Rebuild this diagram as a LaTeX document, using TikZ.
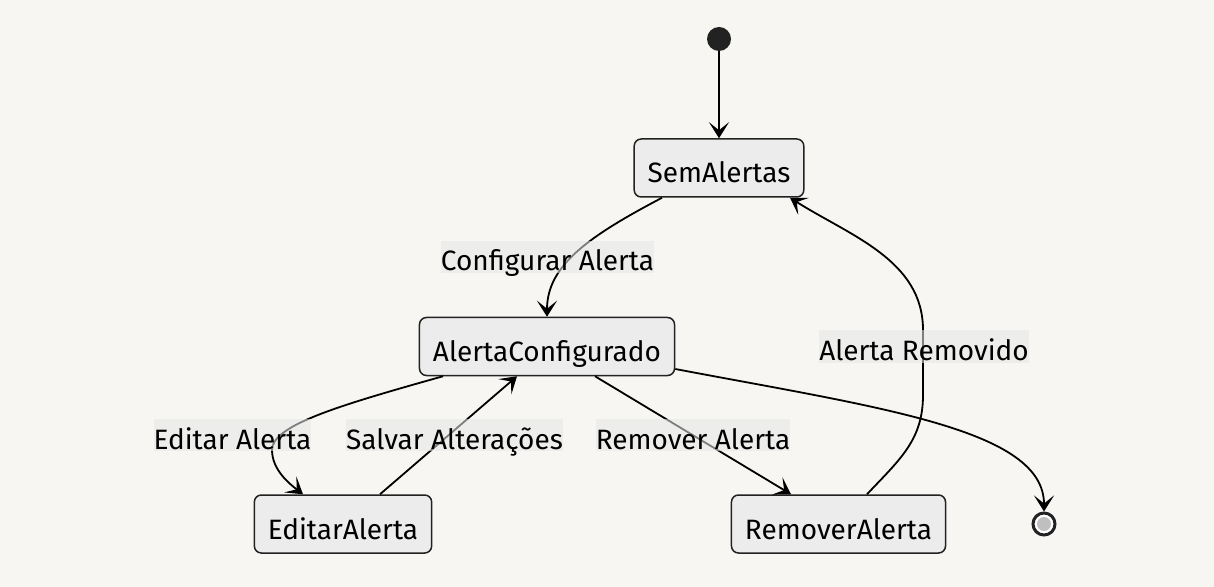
\documentclass[tikz,border=0pt]{standalone}
\usepackage{fontspec}
\setmainfont{Fira Sans}
\usepackage{tikz}
\usetikzlibrary{arrows.meta}
\definecolor{pagebg}{HTML}{F7F6F3}
\definecolor{statefill}{HTML}{ECECEC}
\definecolor{labelfill}{HTML}{E6E6E6}
\definecolor{ink}{HTML}{222222}
\newcommand{\fs}{\fontsize{14}{16}\selectfont}

\begin{document}
\begin{tikzpicture}[x=0.5pt,y=-0.5pt,
  state/.style={draw=ink,fill=statefill,line width=0.75pt,rounded corners=3.5pt,minimum height=29pt,inner xsep=6.75pt,inner ysep=0pt,text height=15pt,text depth=0pt,font=\fs},
  lbl/.style={fill=labelfill,fill opacity=0.55,text opacity=1,inner sep=0pt,text height=15pt,text depth=1pt,font=\fs},
  trans/.style={draw=black,line width=0.9pt,-{Stealth[length=8pt,width=10pt,inset=4pt]}}]
                    \fill[pagebg] (0,0) rectangle (1214,587);
                    \useasboundingbox (0,0) rectangle (1214,587);
                    \node[circle,fill=ink,minimum size=12pt,inner sep=0pt] (start) at (719,39) {};
                    \node[state] (sem) at (719,168) {SemAlertas};
                    \node[state] (conf) at (547,346.5) {AlertaConfigurado};
                    \node[state] (edit) at (343,524) {EditarAlerta};
                    \node[state] (rem) at (838.5,524) {RemoverAlerta};
                    \node[circle,draw=ink,line width=1.5pt,fill=white,minimum size=11pt,inner sep=0pt] (end) at (1044,524) {};
                    \fill[lightgray] (end.center) circle (3.5pt);
                    \draw[trans] (start) -- (sem);
                    \draw[trans] ([xshift=-28.5pt]sem.south) .. controls +(-72,38) and +(0,-52) .. (conf.north);
                    \draw[trans] ([xshift=-52pt]conf.south) .. controls +(-103,29) and +(0,-25) .. (272,450)
                                 .. controls +(0,20) and +(-13,-10) .. ([xshift=-20pt]edit.north);
                    \draw[trans] ([xshift=18.5pt]edit.north) -- ([xshift=-15pt]conf.south);
                    \draw[trans] ([xshift=24pt]conf.south) -- ([xshift=-23.75pt]rem.north);
                    \draw[trans] ([xshift=14.25pt]rem.north) .. controls +(33,-35) and +(0,45) .. (923,395) -- (923,330)
                                 .. controls +(0,-70) and +(60,38) .. ([xshift=35.5pt]sem.south);
                    \draw[trans] ([yshift=-11.25pt]conf.east) .. controls +(206,39) and +(0,-82) .. (end.north);
                    \foreach \n/\p/\t in {lconf/{(547.5,257)}/Configurar Alerta,lremd/{(924,346.5)}/Alerta Removido,ledit/{(232.5,435)}/Editar Alerta,lsalv/{(454.5,435)}/Salvar Alterações,lremv/{(693,435)}/Remover Alerta}{
                    \node[lbl] (\n) at \p {\t};
                    }
                    \end{tikzpicture}
\end{document}
